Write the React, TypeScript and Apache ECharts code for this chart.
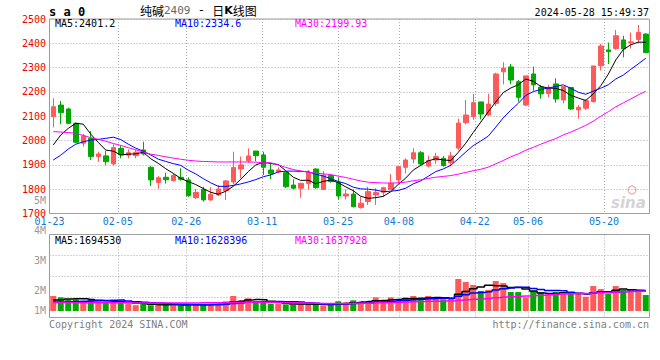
import React, { useEffect, useRef } from 'react';
import * as echarts from 'echarts';

const MONO = '"DejaVu Sans Mono", "Liberation Mono", monospace';
const UP = '#ff5a5a';
const DOWN = '#00a800';

const dates = [
  '01-23','01-24','01-25','01-26','01-29','01-30','01-31',
  '02-01','02-02','02-05','02-06','02-07','02-08','02-19','02-20','02-21','02-22','02-23','02-26','02-27','02-28','02-29',
  '03-01','03-04','03-05','03-06','03-07','03-08','03-11','03-12','03-13','03-14','03-15','03-18','03-19','03-20','03-21','03-22','03-25','03-26','03-27','03-28','03-29',
  '04-01','04-02','04-03','04-08','04-09','04-10','04-11','04-12','04-15','04-16','04-17','04-18','04-19','04-22','04-23','04-24','04-25','04-26','04-29','04-30',
  '05-06','05-07','05-08','05-09','05-10','05-13','05-14','05-15','05-16','05-17','05-20','05-21','05-22','05-23','05-24','05-27','05-28'
];
const xTickLabels = ['01-23','02-05','02-26','03-11','03-25','04-08','04-22','05-06','05-20'];
const priceTicks = { min: 1700, max: 2500, step: 100 };
const volTickLabels = { min: 1, max: 5, step: 1 };

const opens = [2098,2146,2130,2071,1989,2009,1934,1937,1904,1968,1940,1938,1961,1890,1827,1849,1835,1849,1838,1765,1799,1756,1776,1794,1830,1883,1917,1957,1941,1879,1872,1868,1817,1804,1824,1883,1799,1856,1828,1772,1780,1725,1749,1776,1787,1799,1838,1890,1924,1950,1895,1920,1927,1909,1969,2074,2098,2159,2105,2153,2283,2303,2242,2146,2274,2220,2194,2233,2167,2218,2126,2133,2160,2308,2373,2379,2414,2403,2416,2438];
const closes = [2139,2115,2071,1993,2019,1934,1945,1913,1971,1941,1950,1952,1945,1838,1847,1839,1856,1841,1773,1787,1756,1779,1801,1834,1889,1900,1937,1938,1890,1863,1879,1810,1804,1824,1868,1806,1858,1831,1772,1780,1728,1742,1790,1786,1806,1824,1893,1920,1950,1904,1917,1934,1897,1937,2072,2105,2156,2109,2150,2274,2298,2249,2178,2266,2229,2192,2215,2171,2222,2130,2137,2164,2307,2389,2366,2431,2377,2406,2445,2362];
const lows = [2054,2067,2068,1989,1975,1920,1913,1898,1898,1927,1927,1927,1939,1813,1802,1823,1831,1835,1769,1760,1749,1752,1772,1756,1820,1845,1909,1915,1858,1841,1865,1804,1799,1765,1799,1802,1797,1827,1758,1758,1725,1720,1735,1735,1769,1799,1824,1865,1906,1895,1889,1904,1893,1893,1960,2068,2085,2087,2101,2142,2231,2233,2160,2142,2205,2172,2178,2156,2153,2126,2090,2126,2156,2288,2315,2373,2342,2379,2400,2359];
const highs = [2174,2163,2135,2075,2027,2039,1954,1958,1985,1979,1964,1961,1995,1895,1854,1868,1865,1886,1849,1801,1810,1808,1817,1838,1954,1934,1968,1957,1954,1906,1890,1872,1841,1827,1879,1886,1875,1861,1849,1799,1799,1769,1810,1804,1810,1862,1895,1927,1968,1957,1938,1950,1937,1954,2090,2167,2192,2159,2192,2279,2322,2315,2249,2266,2304,2229,2229,2256,2224,2218,2146,2170,2307,2397,2403,2455,2431,2444,2475,2441];

const volumes = [
  1250000,1140000,940000,960000,810000,970000,780000,750000,790000,680000,
  580000,480000,580000,480000,480000,580000,460000,460000,580000,480000,
  600000,580000,520000,810000,1250000,890000,1060000,810000,670000,610000,
  610000,560000,500000,610000,560000,560000,440000,560000,810000,720000,
  890000,720000,810000,1140000,830000,1140000,830000,1140000,1250000,1000000,
  1250000,1000000,970000,1060000,2670000,2420000,2170000,1670000,1750000,2500000,
  2330000,1580000,1580000,1140000,1670000,1560000,1390000,1580000,1440000,1440000,
  1440000,1190000,2080000,1830000,1440000,2080000,1750000,1750000,1610000,1330000
];

// MA values before a full window exists
const ma5Early = [1982, 2023, 2050, 2071];
const ma10Early = [1920, 1940, 1965, 1985, 1995, 2002, 2005, 2009, 2014];
const ma30Early = [2037,2035,2033,2030,2021,2012,2005,1997,1988,1980,1971,1962,1953,1944,1939,1933,1928,1923,1919,1916,1914,1913,1912,1912,1912,1912,1912,1911,1909];
const vma5Early = [920000, 940000, 1000000, 1030000];
const vma10Early = [750000, 760000, 780000, 800000, 820000, 840000, 860000, 880000, 900000];
const vma30Early = [700000,700000,700000,690000,690000,690000,680000,680000,680000,680000,680000,670000,670000,670000,670000,670000,670000,670000,670000,670000,680000,680000,680000,690000,700000,710000,720000,720000,730000];

const headerMain = [
  { text: 'MA5:2401.2', color: '#000000', x: 55 },
  { text: 'MA10:2334.6', color: '#0000ff', x: 175 },
  { text: 'MA30:2199.93', color: '#ff00ff', x: 295 },
];
const headerVol = [
  { text: 'MA5:1694530', color: '#000000', x: 55 },
  { text: 'MA10:1628396', color: '#0000ff', x: 175 },
  { text: 'MA30:1637928', color: '#ff00ff', x: 295 },
];

function movingAvg(arr: number[], n: number, early: number[]) {
  return arr.map((_, i) => {
    if (i < n - 1) return early[i];
    let s = 0;
    for (let k = i - n + 1; k <= i; k++) s += arr[k];
    return Math.round((s / n) * 100) / 100;
  });
}

export default function App() {
  const ref = useRef<HTMLDivElement>(null);
  useEffect(() => {
    const chart = echarts.init(ref.current!, null, { renderer: 'svg' });
    const candleData = dates.map((_, i) => [opens[i], closes[i], lows[i], highs[i]]);
    const volData = volumes.map((v, i) => ({ value: v, itemStyle: { color: closes[i] >= opens[i] ? UP : DOWN } }));
    const labelIdx = xTickLabels.map((d) => dates.indexOf(d));
    const gridDates = dates.slice(0, dates.length - 1);
    const dotted = { color: '#aaaaaa', width: 1, type: [1, 2] as any };
    const vSplit = { show: true, interval: (i: number) => labelIdx.includes(i) && i > 0, lineStyle: dotted };

    const ma = (n: number, early: number[], color: string, grid: number, data: number[], width = 1, step: any = false) => ({
      type: 'line', xAxisIndex: grid === 0 ? 0 : 2, yAxisIndex: grid === 0 ? 0 : 1,
      data: movingAvg(data, n, early), symbol: 'none', showSymbol: false, step,
      lineStyle: { color, width }, silent: true, z: 5,
    });

    chart.setOption({
      animation: false,
      backgroundColor: '#ffffff',
      textStyle: { fontFamily: MONO },
      grid: [
        { left: 49.5, top: 19, width: 600, height: 194.5, show: true, borderColor: '#9a9a9a', borderWidth: 1 },
        { left: 49.5, top: 234.5, width: 600, height: 83, show: true, borderColor: '#9a9a9a', borderWidth: 1 },
        { left: 49.5, top: 203, width: 600, height: 120, show: false },
      ],
      xAxis: [
        { type: 'category', gridIndex: 0, position: 'bottom', data: dates, boundaryGap: true, show: false },
        {
          type: 'category', gridIndex: 0, position: 'bottom', data: gridDates, boundaryGap: true,
          axisLine: { show: false }, axisTick: { show: false },
          axisLabel: {
            interval: (i: number) => labelIdx.includes(i), color: '#1479d0', fontSize: 10,
            fontFamily: MONO, margin: 3, padding: [0, 7.6, 0, 0],
          },
          splitLine: vSplit,
        },
        { type: 'category', gridIndex: 1, position: 'bottom', data: dates, boundaryGap: true, show: false },
        {
          type: 'category', gridIndex: 1, position: 'bottom', data: gridDates, boundaryGap: true,
          axisLine: { show: false }, axisTick: { show: false }, axisLabel: { show: false },
          splitLine: vSplit,
        },
        { type: 'category', gridIndex: 2, position: 'bottom', data: dates, show: false },
      ],
      yAxis: [
        {
          type: 'value', gridIndex: 0, position: 'left', min: priceTicks.min, max: priceTicks.max, interval: priceTicks.step,
          axisLine: { show: false }, axisTick: { show: false },
          axisLabel: {
            color: '#ee0000', fontSize: 10, fontFamily: MONO, margin: 3.5,
            padding: [0, 0, 4, 0], formatter: (v: number) => String(v),
          },
          splitLine: { show: true, lineStyle: dotted },
        },
        { type: 'value', gridIndex: 1, min: -542000, max: 6375000, show: false, splitLine: { show: false } },
        {
          type: 'value', gridIndex: 1, position: 'left', min: 0, max: 4, interval: 1,
          axisLine: { show: false }, axisTick: { show: false }, axisLabel: { show: false },
          splitLine: { show: true, lineStyle: dotted },
        },
        {
          type: 'value', gridIndex: 2, position: 'left', min: volTickLabels.min, max: volTickLabels.max, interval: volTickLabels.step,
          axisLine: { show: false }, axisTick: { show: false }, splitLine: { show: false },
          axisLabel: {
            margin: 3.5, color: '#999999',
            formatter: (v: number) => (v === volTickLabels.min ? `{low|${v}M}` : `{n|${v}M}`),
            rich: {
              n: { color: '#999999', fontFamily: MONO, fontSize: 10, padding: [0, 0, 5, 0] },
              low: { color: '#999999', fontFamily: MONO, fontSize: 10, padding: [0, 0, 26, 0] },
            },
          },
        },
      ],
      series: [
        {
          type: 'candlestick', xAxisIndex: 0, yAxisIndex: 0, data: candleData, barWidth: 5,
          itemStyle: { color: UP, color0: DOWN, borderColor: UP, borderColor0: DOWN, borderWidth: 1 },
        },
        ma(5, ma5Early, '#000000', 0, closes, 1),
        ma(10, ma10Early, '#0000ff', 0, closes, 1),
        ma(30, ma30Early, '#ff00ff', 0, closes, 1),
        { type: 'bar', xAxisIndex: 2, yAxisIndex: 1, data: volData, barWidth: 6 },
        ma(5, vma5Early, '#000000', 1, volumes, 1.5, 'middle'),
        ma(10, vma10Early, '#0000ff', 1, volumes, 1.5, 'middle'),
        ma(30, vma30Early, '#ff00ff', 1, volumes, 1.5, 'middle'),
      ],
      graphic: [
        { type: 'text', x: 49, y: 12, style: { text: 's a 0', font: `bold 12px ${MONO}`, fill: '#000', verticalAlign: 'middle' } },
        {
          type: 'text', x: 140, y: 10,
          style: {
            text: '{c|纯碱}{d|2409}{s| - }{c|日}{k|K}{c|线图}', verticalAlign: 'middle',
            rich: {
              c: { font: '12px "Noto Sans CJK SC"', fill: '#000' },
              d: { font: `11px ${MONO}`, fill: '#666' },
              s: { font: `12px ${MONO}`, fill: '#000' },
              k: { font: 'bold 11px "DejaVu Sans"', fill: '#000' },
            },
          },
        },
        { type: 'text', x: 649, y: 12, style: { text: '2024-05-28 15:49:37', font: `10px ${MONO}`, fill: '#000', align: 'right', verticalAlign: 'middle' } },
        ...headerMain.map((h) => ({ type: 'text', x: h.x, y: 23, z: 10, style: { text: h.text, font: `10px ${MONO}`, fill: h.color, verticalAlign: 'middle' } })),
        ...headerVol.map((h) => ({ type: 'text', x: h.x, y: 240, z: 10, style: { text: h.text, font: `10px ${MONO}`, fill: h.color, verticalAlign: 'middle' } })),
        { type: 'text', x: 49, y: 324, style: { text: 'Copyright 2024 SINA.COM', font: `10px ${MONO}`, fill: '#808080', verticalAlign: 'middle' } },
        { type: 'text', x: 649, y: 324, style: { text: 'http://finance.sina.com.cn', font: `10px ${MONO}`, fill: '#808080', align: 'right', verticalAlign: 'middle' } },
        { type: 'text', x: 611, y: 203, style: { text: 'sina', font: 'italic bold 15px "DejaVu Sans"', fill: '#d4d4d4', verticalAlign: 'middle' } },
        { type: 'circle', shape: { cx: 632, cy: 190, r: 4 }, style: { fill: 'none', stroke: '#f2b8b8', lineWidth: 1.5 } },
      ],
    });
    return () => chart.dispose();
  }, []);
  return <div ref={ref} style={{ position: 'absolute', left: 0, top: 0, width: 660, height: 360, background: '#fff' }} />;
}
